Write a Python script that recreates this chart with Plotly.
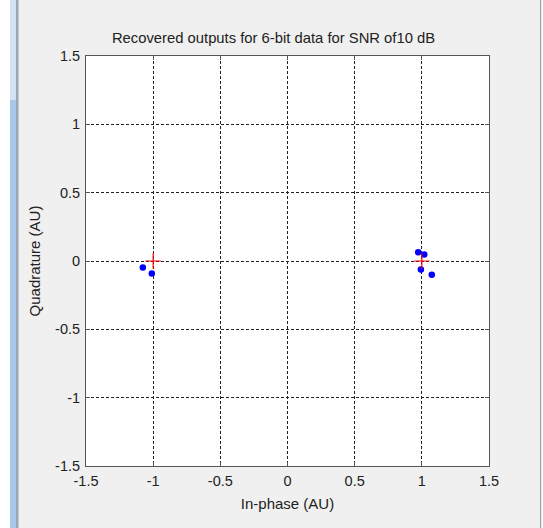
import plotly.graph_objects as go

# Received symbols after recovery (In-phase, Quadrature)
recv_i = [-1.077, -1.010, 0.973, 1.018, 0.993, 1.074]
recv_q = [-0.048, -0.092, 0.064, 0.047, -0.063, -0.100]

# Ideal BPSK constellation points
ref_i = [-1, 1]
ref_q = [0, 0]

tick_vals = [-1.5, -1, -0.5, 0, 0.5, 1, 1.5]
tick_text = ["-1.5", "-1", "-0.5", "0", "0.5", "1", "1.5"]

W, H = 543, 528
L, R, T, B = 86, 489, 56, 466  # plot box in pixels

FONT = "Liberation Sans, Arial, sans-serif"
TXT = "#222222"


def px(x):
    return (x - L) / (R - L)


def py(y):
    return (B - y) / (B - T)


fig = go.Figure()

fig.add_trace(go.Scatter(
    x=recv_i, y=recv_q, mode="markers",
    marker=dict(symbol="circle", size=6.5, color="#0000ff"),
    showlegend=False,
))
fig.add_trace(go.Scatter(
    x=ref_i, y=ref_q, mode="markers",
    marker=dict(symbol="cross-thin", size=11, line=dict(color="#ff0000", width=1.2)),
    showlegend=False,
))

axis_common = dict(
    range=[-1.5, 1.5],
    tickmode="array",
    tickvals=tick_vals,
    ticktext=tick_text,
    showgrid=True,
    gridcolor="#222222",
    gridwidth=1,
    griddash="3px,2px",
    zeroline=False,
    showline=True,
    linecolor="#555555",
    linewidth=1,
    mirror="allticks",
    ticks="inside",
    ticklen=4,
    tickcolor="#555555",
    tickfont=dict(family=FONT, size=14.5, color=TXT),
)

fig.update_xaxes(
    **axis_common,
    ticklabelstandoff=2,
    title=dict(text="In-phase (AU)", standoff=10,
               font=dict(family=FONT, size=15, color=TXT)),
)
fig.update_yaxes(
    **axis_common,
    ticklabelstandoff=2,
    title=dict(text="Quadrature (AU)", standoff=10,
               font=dict(family=FONT, size=15, color=TXT)),
)

# Window frame decorations
shapes = [
    dict(type="rect", xref="paper", yref="paper", x0=px(0), x1=px(10), y0=py(528), y1=py(0),
         fillcolor="#ffffff", line_width=0, layer="below"),
    dict(type="rect", xref="paper", yref="paper", x0=px(10), x1=px(16), y0=py(528), y1=py(100),
         fillcolor="#a9c7ea", line_width=0, layer="below"),
    dict(type="rect", xref="paper", yref="paper", x0=px(10), x1=px(16), y0=py(100), y1=py(0),
         fillcolor="#d3e3f5", line_width=0, layer="below"),
    dict(type="rect", xref="paper", yref="paper", x0=px(16), x1=px(18.5), y0=py(528), y1=py(0),
         fillcolor="#9aa6b2", line_width=0, layer="below"),
    dict(type="rect", xref="paper", yref="paper", x0=px(540), x1=px(541.5), y0=py(528), y1=py(0),
         fillcolor="#9aa8b8", line_width=0, layer="below"),
    dict(type="rect", xref="paper", yref="paper", x0=px(541.5), x1=px(543), y0=py(528), y1=py(0),
         fillcolor="#ffffff", line_width=0, layer="below"),
]

fig.update_layout(
    width=W, height=H,
    margin=dict(l=L, r=W - R, t=T, b=H - B),
    paper_bgcolor="#f0f0f0",
    plot_bgcolor="#ffffff",
    title=dict(text="Recovered outputs for 6-bit data for SNR of10 dB",
               x=px(289), xanchor="center", y=1 - 38 / H, yanchor="middle",
               font=dict(family=FONT, size=14.8, color=TXT)),
    shapes=shapes,
)

fig.write_html("out.html")
